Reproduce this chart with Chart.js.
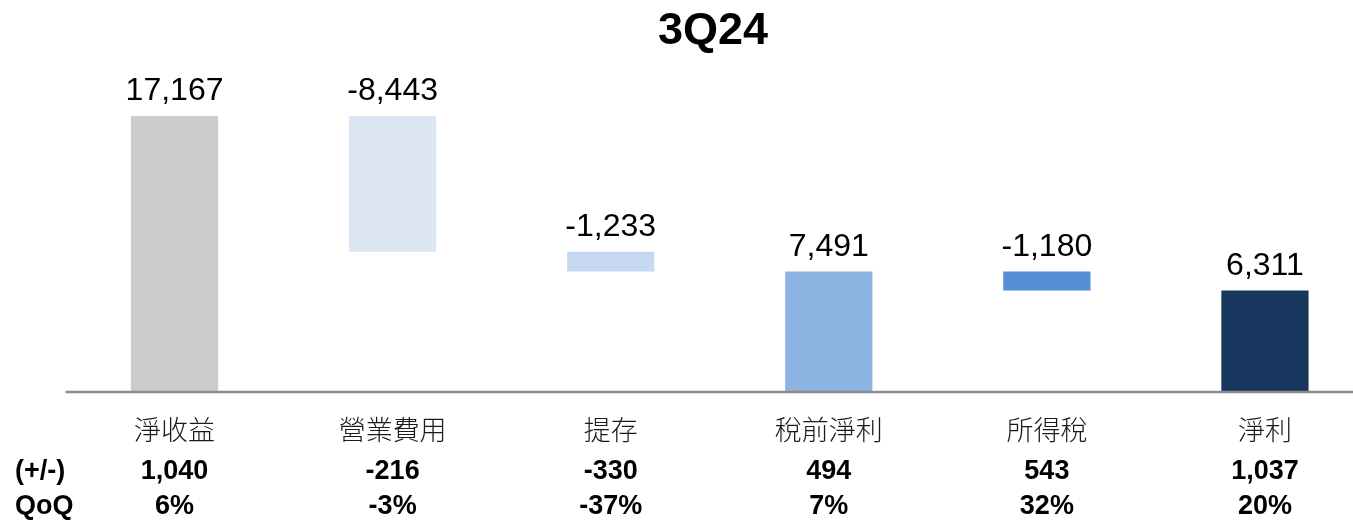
<!DOCTYPE html>
<html>
<head>
<meta charset="utf-8">
<title>3Q24</title>
<script src="https://cdn.jsdelivr.net/npm/chart.js@4.4.1/dist/chart.umd.min.js"></script>
<style>
    html, body { margin: 0; padding: 0; background: #fff; overflow: hidden; }
    /* chart area runs past the right edge in the original, so the canvas is a bit wider than the window */
    #wrap { position: relative; width: 1374px; height: 525px; }
</style>
</head>
<body>
<div id="wrap"><canvas id="chart"></canvas></div>
<script>
const TITLE = '3Q24';
const categories = ['淨收益', '營業費用', '提存', '稅前淨利', '所得稅', '淨利'];
const values = [17167, -8443, -1233, 7491, -1180, 6311];
const isTotal = [true, false, false, true, false, true];
const diffs = ['1,040', '-216', '-330', '494', '543', '1,037'];
const qoq = ['6%', '-3%', '-37%', '7%', '32%', '20%'];
const rowLabels = ['(+/-)', 'QoQ'];
const barColors = ['#CCCCCC', '#DCE6F2', '#C6D9F1', '#8EB4E3', '#558ED5', '#17375E'];

// waterfall: totals start at zero, deltas float off the running total
function buildRanges() {
    let running = 0;
    return values.map((v, i) => {
        if (isTotal[i]) {
            running = v;
            return [0, v];
        }
        const from = running;
        running += v;
        return [Math.min(from, running), Math.max(from, running)];
    });
}

const annotate = {
    id: 'annotate',
    afterDraw(chart) {
        const ctx = chart.ctx;
        const x = chart.scales.x;
        const area = chart.chartArea;
        const meta = chart.getDatasetMeta(0);

        ctx.save();

        // baseline
        ctx.strokeStyle = '#8C8C8C';
        ctx.lineWidth = 2.5;
        ctx.beginPath();
        ctx.moveTo(area.left, area.bottom);
        ctx.lineTo(area.right, area.bottom);
        ctx.stroke();

        // title
        ctx.fillStyle = '#000';
        ctx.textAlign = 'center';
        ctx.textBaseline = 'middle';
        ctx.font = 'bold 45px "Liberation Sans", Arial, sans-serif';
        ctx.fillText(TITLE, 713, 32);

        // value labels above bars
        ctx.font = '32px "Liberation Sans", Arial, sans-serif';
        ctx.textBaseline = 'alphabetic';
        meta.data.forEach((bar, i) => {
            const top = Math.min(bar.y, bar.base);
            ctx.fillText(values[i].toLocaleString('en-US'), bar.x, top - 16);
        });

        // category labels
        ctx.fillStyle = '#1a1a1a';
        ctx.textBaseline = 'middle';
        ctx.font = '300 27px "Noto Sans CJK TC", "Noto Sans CJK SC", sans-serif';
        categories.forEach((c, i) => {
            ctx.fillText(c, x.getPixelForValue(i), 430);
        });

        // table rows
        ctx.fillStyle = '#000';
        ctx.font = 'bold 27px "Liberation Sans", Arial, sans-serif';
        [diffs, qoq].forEach((row, r) => {
            const y = r === 0 ? 472 : 507;
            row.forEach((t, i) => {
                ctx.textAlign = 'center';
                ctx.fillText(t, x.getPixelForValue(i), y);
            });
            ctx.textAlign = 'left';
            ctx.fillText(rowLabels[r], 15, y);
        });

        ctx.restore();
    }
};

new Chart(document.getElementById('chart'), {
    type: 'bar',
    data: {
        labels: categories,
        datasets: [{
            data: buildRanges(),
            backgroundColor: barColors,
            borderWidth: 0,
            barPercentage: 0.4,
            categoryPercentage: 1.0
        }]
    },
    options: {
        responsive: true,
        maintainAspectRatio: false,
        animation: false,
        layout: { padding: { left: 65.5, right: 0, top: 70.5, bottom: 133 } },
        plugins: {
            legend: { display: false },
            tooltip: { enabled: false }
        },
        scales: {
            x: { display: false },
            y: { display: false, min: 0, max: 20000 }
        }
    },
    plugins: [annotate]
});
</script>
</body>
</html>
